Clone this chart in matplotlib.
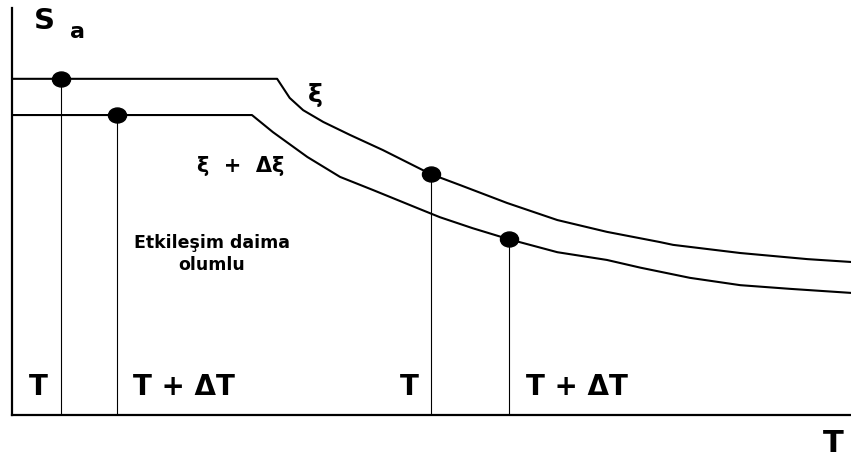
import numpy as np
import matplotlib
matplotlib.use('Agg')
import matplotlib.pyplot as plt
from matplotlib.path import Path
from matplotlib.transforms import Affine2D

# Spectrum curve for damping xi (plateau then decaying branch)
T_xi = [0.0, 3.16, 3.31, 3.47, 3.71, 4.03, 4.42, 4.99, 5.34, 5.90, 6.50, 7.09,
        7.72, 7.88, 8.68, 9.48, 10.0]
Sa_xi = [8.26, 8.26, 7.79, 7.49, 7.20, 6.88, 6.51, 5.92, 5.65, 5.21, 4.79, 4.50,
         4.25, 4.18, 3.98, 3.83, 3.76]

# Spectrum curve for damping xi + delta xi
T_dxi = [0.0, 2.86, 3.11, 3.52, 3.91, 4.30, 4.86, 5.10, 5.49, 5.92, 6.50, 7.09,
         7.49, 8.08, 8.68, 9.27, 10.0]
Sa_dxi = [7.37, 7.37, 6.95, 6.34, 5.85, 5.53, 5.06, 4.86, 4.59, 4.32, 4.00, 3.81,
          3.62, 3.37, 3.19, 3.10, 3.00]

# Marked periods (T, T + dT) on each curve
pts_T = [0.58, 1.25, 4.99, 5.92]
pts_Sa = [8.26, 7.37, 5.92, 4.32]

bottom_labels = ['T', 'T + ΔT', 'T', 'T + ΔT']
bottom_x = [0.31, 2.05, 4.73, 6.73]

plt.rcParams['font.family'] = ['DejaVu Sans']
plt.rcParams['font.weight'] = 'bold'

fig = plt.figure(figsize=(8.51, 4.57), dpi=100)
ax = fig.add_axes([12 / 851, 42 / 457, 839 / 851, 407 / 457])
ax.set_xlim(0, 10)
ax.set_ylim(0, 10)

ax.plot(T_xi, Sa_xi, color='black', lw=1.5, solid_joinstyle='round')
ax.plot(T_dxi, Sa_dxi, color='black', lw=1.5, solid_joinstyle='round')

# drop lines from each marked point to the period axis
ax.vlines(pts_T, 0, pts_Sa, color='black', lw=0.8)

dot = Path.unit_circle().transformed(Affine2D().scale(1.0, 0.83))
ax.plot(pts_T, pts_Sa, linestyle='none', marker=dot, ms=13,
        color='black', clip_on=False)

for s in ['top', 'right']:
    ax.spines[s].set_visible(False)
ax.spines['left'].set_linewidth(1.6)
ax.spines['bottom'].set_linewidth(1.6)
ax.set_xticks([])
ax.set_yticks([])

# axis titles
ax.text(0.38, 9.48, 'S', fontsize=21, ha='center', va='baseline', clip_on=False)
ax.text(0.69, 9.26, 'a', fontsize=16, ha='left', va='baseline', clip_on=False)
ax.text(9.79, -0.91, 'T', fontsize=22, ha='center', va='baseline', clip_on=False)

# curve labels and note
ax.text(3.62, 7.86, 'ξ', fontsize=18, ha='center', va='center')
ax.text(2.73, 6.12, 'ξ  +  Δξ', fontsize=15, ha='center', va='center')
ax.text(2.38, 4.23, 'Etkileşim daima', fontsize=12.5, ha='center', va='center')
ax.text(2.38, 3.69, 'olumlu', fontsize=12.5, ha='center', va='center')

for x, lab in zip(bottom_x, bottom_labels):
    ax.text(x, 0.49, lab, fontsize=20, ha='center', va='baseline')

fig.savefig('out.png', dpi=100, facecolor='white')
